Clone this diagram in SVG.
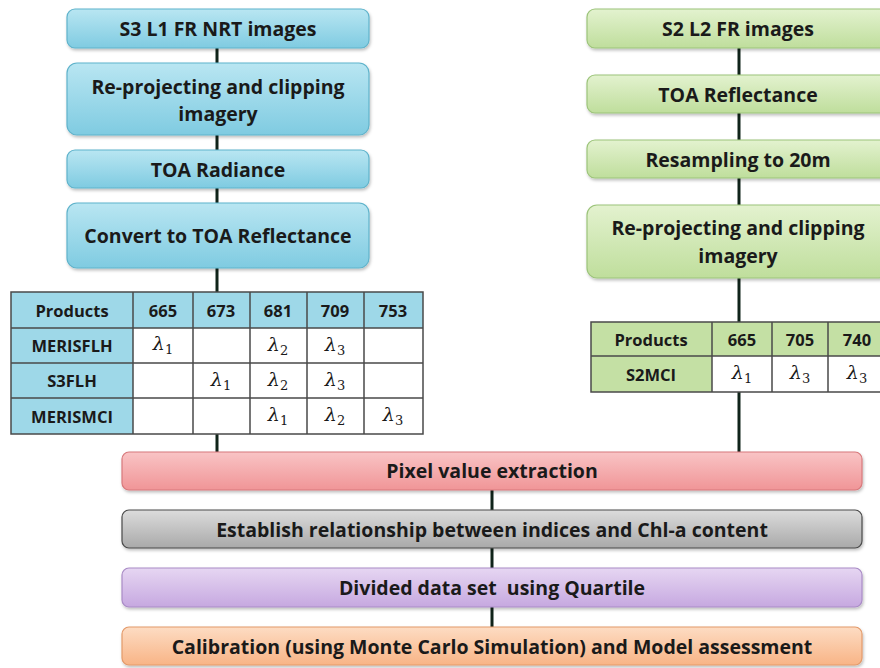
<svg xmlns="http://www.w3.org/2000/svg" width="880" height="668" viewBox="0 0 880 668">
  <defs>
    <linearGradient id="gBlue" x1="0" y1="0" x2="0" y2="1">
      <stop offset="0" stop-color="#b9e6f2"/>
      <stop offset="1" stop-color="#7fcbe1"/>
    </linearGradient>
    <linearGradient id="gGreen" x1="0" y1="0" x2="0" y2="1">
      <stop offset="0" stop-color="#e3f2cf"/>
      <stop offset="1" stop-color="#bfde9c"/>
    </linearGradient>
    <linearGradient id="gPink" x1="0" y1="0" x2="0" y2="1">
      <stop offset="0" stop-color="#f9c4c5"/>
      <stop offset="1" stop-color="#f09597"/>
    </linearGradient>
    <linearGradient id="gGray" x1="0" y1="0" x2="0" y2="1">
      <stop offset="0" stop-color="#dcdcdc"/>
      <stop offset="1" stop-color="#a9a9a9"/>
    </linearGradient>
    <linearGradient id="gPurple" x1="0" y1="0" x2="0" y2="1">
      <stop offset="0" stop-color="#e6d6f2"/>
      <stop offset="1" stop-color="#c6a8e0"/>
    </linearGradient>
    <linearGradient id="gOrange" x1="0" y1="0" x2="0" y2="1">
      <stop offset="0" stop-color="#fddcc3"/>
      <stop offset="1" stop-color="#f8b486"/>
    </linearGradient>
    <filter id="shadow" x="-5%" y="-20%" width="110%" height="150%">
      <feDropShadow dx="1" dy="2" stdDeviation="1.5" flood-color="#000" flood-opacity="0.25"/>
    </filter>
  </defs>
  <style>
    .box { filter: url(#shadow); stroke-width: 1.2; }
    .blue { fill: url(#gBlue); stroke: #5fb3cb; }
    .green { fill: url(#gGreen); stroke: #9cc47a; }
    .pink { fill: url(#gPink); stroke: #d8797c; }
    .gray { fill: url(#gGray); stroke: #4a4a4a; }
    .purple { fill: url(#gPurple); stroke: #a98bc6; }
    .orange { fill: url(#gOrange); stroke: #e39a6a; }
    .t { font-family: "Open Sans", Lato, "Liberation Sans", sans-serif; font-weight: bold; font-size: 19.5px; fill: #1a1a1a; text-anchor: middle; dominant-baseline: central; }
    .th { font-family: "Open Sans", Lato, "Liberation Sans", sans-serif; font-weight: bold; font-size: 16.5px; fill: #1a1a1a; text-anchor: middle; dominant-baseline: central; }
    .lam { font-family: "DejaVu Serif", "Liberation Serif", serif; font-style: italic; font-size: 19px; fill: #1a1a1a; text-anchor: middle; }
    .sub { font-size: 13px; font-style: normal; }
    .hdrB { fill: #9ed8e8; }
    .hdrG { fill: #c4e0a4; }
    .cell { fill: #ffffff; }
    .grid { stroke: #4a4a4a; stroke-width: 1.5; fill: none; }
    .link { stroke: #10241a; stroke-width: 3; fill: none; }
  </style>

  <!-- connectors -->
  <g id="connectors">
    <path class="link" d="M217 48V63M217 135V150M217 188V203M217 268V292M217 434V452"/>
    <path class="link" d="M739 48V75M739 113V140M739 178V205M739 278V322M739 392V452"/>
    <path class="link" d="M492 490V510M492 548V568M492 607V627"/>
  </g>

  <!-- Sentinel-3 chain -->
  <g id="s3-images">
    <rect class="box blue" x="67" y="9" width="302" height="39" rx="8"/>
    <text class="t" x="218" y="28">S3 L1 FR NRT images</text>
  </g>
  <g id="s3-reproject">
    <rect class="box blue" x="67" y="63" width="302" height="72" rx="10"/>
    <text class="t" x="218" y="86">Re-projecting and clipping</text>
    <text class="t" x="218" y="113">imagery</text>
  </g>
  <g id="s3-radiance">
    <rect class="box blue" x="67" y="150" width="302" height="38" rx="8"/>
    <text class="t" x="218" y="169">TOA Radiance</text>
  </g>
  <g id="s3-reflectance">
    <rect class="box blue" x="67" y="203" width="302" height="65" rx="10"/>
    <text class="t" x="218" y="235">Convert to TOA Reflectance</text>
  </g>

  <!-- Sentinel-3 band table -->
  <g id="s3-table">
    <rect class="hdrB" x="11" y="292" width="412" height="36"/>
    <rect class="hdrB" x="11" y="328" width="122" height="106"/>
    <rect class="cell" x="133" y="328" width="290" height="106"/>
    <path class="grid" d="M11 292H423V434H11Z M11 328H423M11 363H423M11 398H423 M133 292V434M193 292V434M250 292V434M307 292V434M364 292V434"/>
    <text class="th" x="72" y="310">Products</text>
    <text class="th" x="163" y="310">665</text>
    <text class="th" x="221" y="310">673</text>
    <text class="th" x="278" y="310">681</text>
    <text class="th" x="335" y="310">709</text>
    <text class="th" x="393" y="310">753</text>
    <text class="th" x="72" y="345">MERISFLH</text>
    <text class="th" x="72" y="380">S3FLH</text>
    <text class="th" x="72" y="416">MERISMCI</text>
    <text class="lam" x="163" y="350">λ<tspan class="sub" dy="4">1</tspan></text>
    <text class="lam" x="278" y="351">λ<tspan class="sub" dy="4">2</tspan></text>
    <text class="lam" x="335" y="351">λ<tspan class="sub" dy="4">3</tspan></text>
    <text class="lam" x="221" y="386">λ<tspan class="sub" dy="4">1</tspan></text>
    <text class="lam" x="278" y="386">λ<tspan class="sub" dy="4">2</tspan></text>
    <text class="lam" x="335" y="386">λ<tspan class="sub" dy="4">3</tspan></text>
    <text class="lam" x="278" y="421">λ<tspan class="sub" dy="4">1</tspan></text>
    <text class="lam" x="335" y="421">λ<tspan class="sub" dy="4">2</tspan></text>
    <text class="lam" x="393" y="421">λ<tspan class="sub" dy="4">3</tspan></text>
  </g>

  <!-- Sentinel-2 chain -->
  <g id="s2-images">
    <rect class="box green" x="587" y="9" width="302" height="39" rx="8"/>
    <text class="t" x="738" y="28">S2 L2 FR images</text>
  </g>
  <g id="s2-reflectance">
    <rect class="box green" x="587" y="75" width="302" height="38" rx="8"/>
    <text class="t" x="738" y="94">TOA Reflectance</text>
  </g>
  <g id="s2-resample">
    <rect class="box green" x="587" y="140" width="302" height="38" rx="8"/>
    <text class="t" x="738" y="159">Resampling to 20m</text>
  </g>
  <g id="s2-reproject">
    <rect class="box green" x="587" y="205" width="302" height="73" rx="10"/>
    <text class="t" x="738" y="227">Re-projecting and clipping</text>
    <text class="t" x="738" y="255">imagery</text>
  </g>

  <!-- Sentinel-2 band table -->
  <g id="s2-table">
    <rect class="hdrG" x="591" y="322" width="300" height="34"/>
    <rect class="hdrG" x="591" y="356" width="121" height="36"/>
    <rect class="cell" x="712" y="356" width="179" height="36"/>
    <path class="grid" d="M891 322H591V392H891 M591 356H891 M712 322V392M772 322V392M828 322V392"/>
    <text class="th" x="651" y="339">Products</text>
    <text class="th" x="742" y="339">665</text>
    <text class="th" x="800" y="339">705</text>
    <text class="th" x="857" y="339">740</text>
    <text class="th" x="651" y="374">S2MCI</text>
    <text class="lam" x="742" y="379">λ<tspan class="sub" dy="4">1</tspan></text>
    <text class="lam" x="800" y="379">λ<tspan class="sub" dy="4">3</tspan></text>
    <text class="lam" x="857" y="379">λ<tspan class="sub" dy="4">3</tspan></text>
  </g>

  <!-- shared processing chain -->
  <g id="pixel-extraction">
    <rect class="box pink" x="122" y="452" width="740" height="38" rx="7"/>
    <text class="t" x="492" y="470">Pixel value extraction</text>
  </g>
  <g id="relationship">
    <rect class="box gray" x="122" y="510" width="740" height="38" rx="7"/>
    <text class="t" x="492" y="529">Establish relationship between indices and Chl-a content</text>
  </g>
  <g id="quartile">
    <rect class="box purple" x="122" y="568" width="740" height="39" rx="7"/>
    <text class="t" x="492" y="587" xml:space="preserve">Divided data set  using Quartile</text>
  </g>
  <g id="calibration">
    <rect class="box orange" x="122" y="627" width="740" height="38" rx="7"/>
    <text class="t" x="492" y="646">Calibration (using Monte Carlo Simulation) and Model assessment</text>
  </g>
</svg>
